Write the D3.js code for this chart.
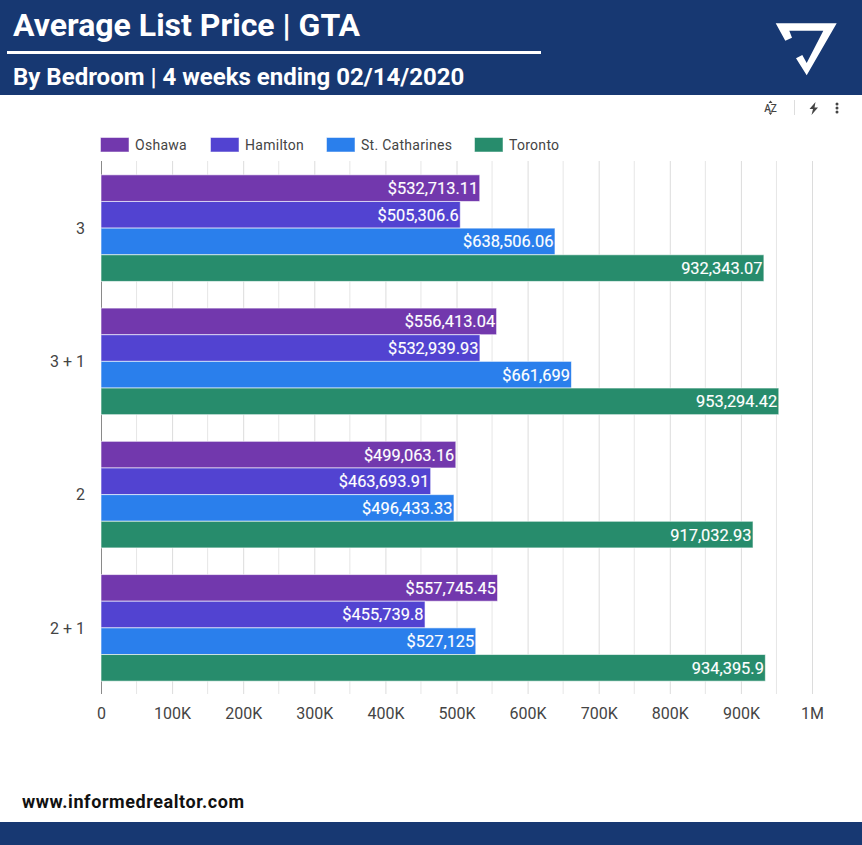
<!DOCTYPE html>
<html>
<head>
<meta charset="utf-8">
<script src="https://cdn.jsdelivr.net/npm/d3@7"></script>
<style>
  html, body { margin: 0; padding: 0; background: #fff; }
  svg { display: block; font-family: Roboto, sans-serif; }
</style>
</head>
<body>
<div id="chart"></div>
<script>
const categories = ["3", "3 + 1", "2", "2 + 1"];
const cities = ["Oshawa", "Hamilton", "St. Catharines", "Toronto"];
const cityColors = ["#7238ad", "#5243d1", "#2a7fec", "#278c6c"];

const oshawa = [532713.11, 556413.04, 499063.16, 557745.45];
const hamilton = [505306.6, 532939.93, 463693.91, 455739.8];
const stCatharines = [638506.06, 661699, 496433.33, 527125];
const toronto = [932343.07, 953294.42, 917032.93, 934395.9];
const seriesValues = [oshawa, hamilton, stCatharines, toronto];

const xTicks = [0, 100000, 200000, 300000, 400000, 500000, 600000, 700000, 800000, 900000, 1000000];
const xTickLabels = ["0", "100K", "200K", "300K", "400K", "500K", "600K", "700K", "800K", "900K", "1M"];
const xMinorGrid = d3.range(50000, 1000000, 100000);

const width = 862, height = 845;
const navy = "#173872";

const svg = d3.select("#chart").append("svg")
    .attr("width", width)
    .attr("height", height);

// header and footer bands
svg.append("rect").attr("width", width).attr("height", 95).attr("fill", navy);
svg.append("rect").attr("y", 822).attr("width", width).attr("height", 23).attr("fill", navy);
svg.append("rect").attr("x", 7).attr("y", 51).attr("width", 534).attr("height", 3).attr("fill", "#fff");

svg.append("text").attr("x", 13).attr("y", 36)
    .attr("font-size", 32).attr("font-weight", 700).attr("fill", "#fff")
    .text("Average List Price | GTA");
svg.append("text").attr("x", 13).attr("y", 85)
    .attr("font-size", 24).attr("font-weight", 700).attr("fill", "#fff")
    .text("By Bedroom | 4 weeks ending 02/14/2020");
svg.append("text").attr("x", 22).attr("y", 808)
    .attr("font-size", 18).attr("font-weight", 700).attr("letter-spacing", 0.58).attr("fill", "#111")
    .text("www.informedrealtor.com");

// logo
svg.append("path")
    .attr("fill", "#fff")
    .attr("d", "M775.7,23.3H836.7L806.7,75.3L796,58.3L802.3,55L806.7,63L823.3,30.7H789.3L792,37.7L785.3,40.7Z");

// toolbar icons
const toolbar = svg.append("g").attr("fill", "#444");
toolbar.append("text").attr("x", 770.5).attr("y", 111.5)
    .attr("text-anchor", "middle").attr("font-size", 10).attr("font-weight", 500)
    .text("AZ");
toolbar.append("path").attr("d", "M768.5,103L770.5,100.5L772.5,103ZM768.5,112.5L770.5,115L772.5,112.5Z");
toolbar.append("rect").attr("x", 794).attr("y", 100).attr("width", 1).attr("height", 15).attr("fill", "#ddd");
toolbar.append("path").attr("d", "M815.5,102L809.5,109H813L811.5,115L818,107.5H814.5Z");
[104, 108, 112].forEach(y => toolbar.append("circle").attr("cx", 837).attr("cy", y).attr("r", 1.5));

// plot
const axisY0 = 161, axisY1 = 694;
const x = d3.scaleLinear().domain([0, 1000000]).range([101, 812]);
const y = d3.scaleBand().domain(categories).range([axisY0 + 0.5, axisY1 + 0.5]).paddingInner(0.2).paddingOuter(0.1);
const yBar = d3.scaleBand().domain(cities).range([0, y.bandwidth()]);

svg.append("g").selectAll("line")
    .data(xMinorGrid)
    .join("line")
    .attr("x1", d => x(d)).attr("x2", d => x(d))
    .attr("y1", axisY0).attr("y2", axisY1)
    .attr("stroke", "#e6e6e6");

const xAxis = d3.axisBottom(x)
    .tickValues(xTicks)
    .tickFormat((d, i) => xTickLabels[i])
    .tickSize(axisY1 - axisY0)
    .tickPadding(14);

const xAxisG = svg.append("g")
    .attr("transform", `translate(0,${axisY0})`)
    .call(xAxis);
xAxisG.select(".domain").remove();
xAxisG.selectAll("line").attr("stroke", d => d === 0 ? "#8a8a8a" : "#dcdcdc");
xAxisG.selectAll("text")
    .attr("font-family", "Roboto, sans-serif")
    .attr("font-size", 16).attr("fill", "#444");

const yAxisG = svg.append("g")
    .attr("transform", "translate(102,0.5)")
    .call(d3.axisLeft(y).tickSize(0).tickPadding(17));
yAxisG.select(".domain").remove();
yAxisG.selectAll("text")
    .attr("font-family", "Roboto, sans-serif")
    .attr("font-size", 16).attr("fill", "#444");

// bars, one group per category
const rows = seriesValues.flatMap((values, s) =>
    values.map((v, c) => ({ city: cities[s], color: cityColors[s], category: categories[c], value: v })));

const fmt = d3.format(",");
const label = d => (d.city === "Toronto" ? "" : "$") + fmt(d.value);

svg.append("g").selectAll("rect")
    .data(rows)
    .join("rect")
    .attr("x", x(0))
    .attr("y", d => y(d.category) + yBar(d.city))
    .attr("width", d => x(d.value) - x(0))
    .attr("height", yBar.bandwidth())
    .attr("fill", d => d.color)
    .attr("stroke", "#fff")
    .attr("stroke-opacity", 0.6)
    .attr("stroke-width", 1);

svg.append("g").selectAll("text")
    .data(rows)
    .join("text")
    .attr("x", d => x(d.value) - 1.5)
    .attr("y", d => y(d.category) + yBar(d.city) + yBar.bandwidth() / 2)
    .attr("dy", "0.36em")
    .attr("text-anchor", "end")
    .attr("font-size", 16.4).attr("stroke", "#fff").attr("stroke-width", 0.15).attr("fill", "#fff")
    .text(label);

// legend
const legendX = [100.5, 210.5, 326.5, 474.5];
const legend = svg.append("g").selectAll("g")
    .data(cities)
    .join("g")
    .attr("transform", (d, i) => `translate(${legendX[i]},137.5)`);
legend.append("rect")
    .attr("width", 28.5).attr("height", 14.5)
    .attr("fill", (d, i) => cityColors[i])
    .attr("stroke", "#fff")
    .attr("stroke-opacity", 0.5);
legend.append("text")
    .attr("x", 34.5).attr("y", 12.5)
    .attr("font-size", 14).attr("letter-spacing", 0.28).attr("fill", "#444")
    .text(d => d);
</script>
</body>
</html>
